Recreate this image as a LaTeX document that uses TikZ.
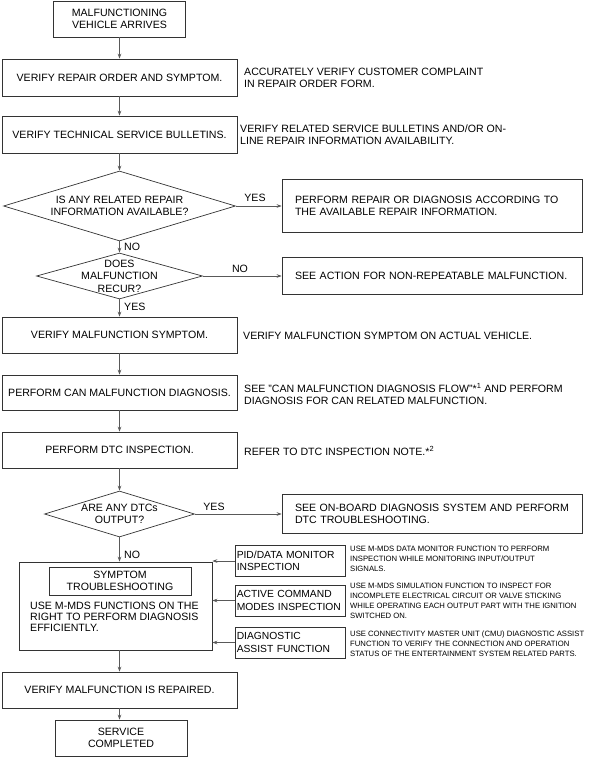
\documentclass[tikz,border=0pt]{standalone}
\usepackage{fontspec}
\setmainfont{Liberation Sans}
\usetikzlibrary{arrows.meta,shapes.geometric,positioning}

\begin{document}
\begin{tikzpicture}
[x=1pt,y=-1pt,
 every node/.style={font=\fontsize{10.6}{12.5}\selectfont},
 box/.style={rectangle,draw=black!80,line width=0.7pt,inner sep=0pt,align=center},
 wide/.style={box,minimum width=235pt,minimum height=36pt},
 answerbox/.style={box,align=left,text width=274pt,minimum width=300pt},
 sidebox/.style={box,align=left,text width=106.5pt,minimum width=110pt,minimum height=31pt,
   font=\fontsize{10.3}{12.5}\selectfont},
 decision/.style={diamond,draw=black!80,line width=0.7pt,inner sep=0pt},
 qtext/.style={inner sep=0pt,align=center},
 note/.style={anchor=west,align=left,inner sep=0pt},
 small/.style={note,font=\fontsize{7.7}{10}\selectfont},
 flow/.style={draw=black!65,line width=0.7pt,-{Stealth[length=5pt,width=3.6pt]}}]
\useasboundingbox (0,0) rectangle (614,757);

% main column
\node[box,minimum width=132pt,minimum height=36pt] (arrive) at (119.5,19) {MALFUNCTIONING\\VEHICLE ARRIVES};
\node[wide,minimum height=37pt] (order) at (119.5,77.5) {VERIFY REPAIR ORDER AND SYMPTOM.};
\node[note] (ordernote) at (244,78) {ACCURATELY VERIFY CUSTOMER COMPLAINT\\IN REPAIR ORDER FORM.};
\node[wide,minimum height=37pt] (bulletin) at (119.5,134.5) {VERIFY TECHNICAL SERVICE BULLETINS.};
\node[note] (bulletinnote) at (240,134.5) {VERIFY RELATED SERVICE BULLETINS AND/OR ON-\\LINE REPAIR INFORMATION AVAILABILITY.};

\node[decision,minimum width=232pt,minimum height=70pt] (info) at (119.5,206) {};
\node[qtext] (infotext) at (info) {IS ANY RELATED REPAIR\\INFORMATION AVAILABLE?};
\node[answerbox,minimum height=53pt] (repair) at (432,206) {PERFORM REPAIR OR DIAGNOSIS ACCORDING TO\\THE AVAILABLE REPAIR INFORMATION.};
\node[qtext] (yesA) at (255,198) {YES};
\node[qtext,anchor=west] (noA) at (124,247) {NO};

\node[decision,minimum width=166pt,minimum height=46pt] (recur) at (119.5,276) {};
\node[qtext] (recurtext) at (recur) {DOES\\MALFUNCTION\\RECUR?};
\node[answerbox,minimum height=37pt] (nonrep) at (432,276) {SEE ACTION FOR NON-REPEATABLE MALFUNCTION.};
\node[qtext] (noB) at (240,269) {NO};
\node[qtext,anchor=west] (yesB) at (124,307) {YES};

\node[wide] (symptom) at (119.5,335) {VERIFY MALFUNCTION SYMPTOM.};
\node[note] (symptomnote) at (243,336) {VERIFY MALFUNCTION SYMPTOM ON ACTUAL VEHICLE.};
\node[wide,minimum height=35pt] (can) at (119.5,392.5) {PERFORM CAN MALFUNCTION DIAGNOSIS.};
\node[note] (cannote) at (244,394) {SEE "CAN MALFUNCTION DIAGNOSIS FLOW"*\textsuperscript{1} AND PERFORM\\DIAGNOSIS FOR CAN RELATED MALFUNCTION.};
\node[wide] (dtc) at (119.5,450) {PERFORM DTC INSPECTION.};
\node[note] (dtcnote) at (244,451) {REFER TO DTC INSPECTION NOTE.*\textsuperscript{2}};

\node[decision,minimum width=150pt,minimum height=46pt] (output) at (119.5,514) {};
\node[qtext] (outputtext) at (output) {ARE ANY DTCs\\OUTPUT?};
\node[answerbox,minimum height=39pt] (onboard) at (432,514) {SEE ON-BOARD DIAGNOSIS SYSTEM AND PERFORM\\DTC TROUBLESHOOTING.};
\node[qtext] (yesC) at (214,507) {YES};
\node[qtext,anchor=west] (noC) at (124,555) {NO};

% symptom troubleshooting block
\node[box,minimum width=193pt,minimum height=88pt] (trouble) at (115.5,606) {};
\node[box,minimum width=142pt,minimum height=28pt] (troubletitle) at (120,581) {SYMPTOM\\TROUBLESHOOTING};
\node[note,font=\fontsize{10.6}{11.3}\selectfont] (troubletext) at (30,617) {USE M-MDS FUNCTIONS ON THE\\RIGHT TO PERFORM DIAGNOSIS\\EFFICIENTLY.};

\node[sidebox] (pid) at (290,561) {PID/DATA MONITOR\\INSPECTION};
\node[small] (pidnote) at (350,559) {USE M-MDS DATA MONITOR FUNCTION TO PERFORM\\INSPECTION WHILE MONITORING INPUT/OUTPUT\\SIGNALS.};
\node[sidebox] (active) at (290,600.5) {ACTIVE COMMAND\\MODES INSPECTION};
\node[small] (activenote) at (350,601) {USE M-MDS SIMULATION FUNCTION TO INSPECT FOR\\INCOMPLETE ELECTRICAL CIRCUIT OR VALVE STICKING\\WHILE OPERATING EACH OUTPUT PART WITH THE IGNITION\\SWITCHED ON.};
\node[sidebox] (assist) at (290,642.5) {DIAGNOSTIC\\ASSIST FUNCTION};
\node[small] (assistnote) at (350,643.5) {USE CONNECTIVITY MASTER UNIT (CMU) DIAGNOSTIC ASSIST\\FUNCTION TO VERIFY THE CONNECTION AND OPERATION\\STATUS OF THE ENTERTAINMENT SYSTEM RELATED PARTS.};

\node[wide] (repaired) at (119.5,690) {VERIFY MALFUNCTION IS REPAIRED.};
\node[box,minimum width=132pt,minimum height=36pt] (done) at (121,738) {SERVICE\\COMPLETED};

% connectors
\draw[flow] (arrive) -- (order);
\draw[flow] (order) -- (bulletin);
\draw[flow] (bulletin) -- (info);
\draw[flow] (info) -- (repair);
\draw[flow] (info) -- (recur);
\draw[flow] (recur) -- (nonrep);
\draw[flow] (recur) -- (symptom);
\draw[flow] (symptom) -- (can);
\draw[flow] (can) -- (dtc);
\draw[flow] (dtc) -- (output);
\draw[flow] (output) -- (onboard);
\draw[flow] (output) -- (output |- trouble.north);
\draw[flow] (pid) -- (pid -| trouble.east);
\draw[flow] (active) -- (active -| trouble.east);
\draw[flow] (assist) -- (assist -| trouble.east);
\draw[flow] (trouble.south -| repaired) -- (repaired);
\draw[flow] (repaired) -- (repaired |- done.north);
\end{tikzpicture}
\end{document}
